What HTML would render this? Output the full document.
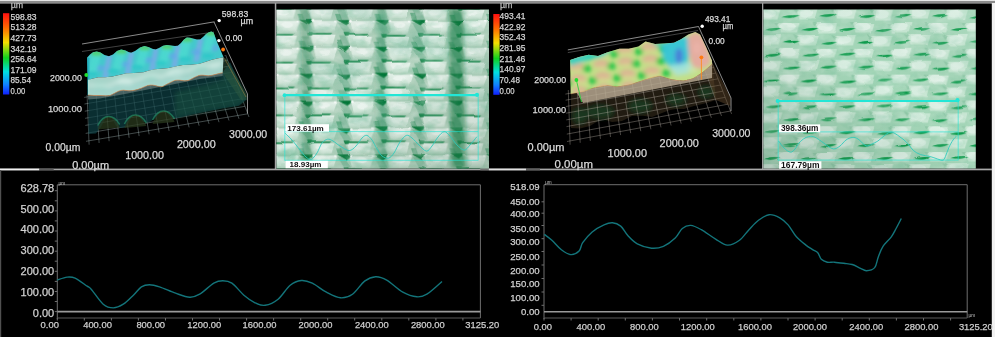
<!DOCTYPE html>
<html><head><meta charset='utf-8'><style>
html,body{margin:0;padding:0;background:#000;width:995px;height:337px;overflow:hidden}
svg{display:block;will-change:transform}
</style></head><body>
<svg width='995' height='337' viewBox='0 0 995 337' font-family='"Liberation Sans", sans-serif'>
<defs>
<filter id='blur15' x='-20%' y='-20%' width='140%' height='140%'><feGaussianBlur stdDeviation='1.4'/></filter>
<filter id='blur2' x='-20%' y='-20%' width='140%' height='140%'><feGaussianBlur stdDeviation='2'/></filter>
<linearGradient id='cbar' x1='0' y1='0' x2='0' y2='1'>
 <stop offset='0' stop-color='#ff1010'/>
 <stop offset='0.18' stop-color='#ff6a00'/>
 <stop offset='0.36' stop-color='#f4e000'/>
 <stop offset='0.55' stop-color='#10d020'/>
 <stop offset='0.72' stop-color='#00e0e0'/>
 <stop offset='0.88' stop-color='#1080ff'/>
 <stop offset='1' stop-color='#1020ff'/>
</linearGradient>

<filter id='mblur' x='0' y='0' width='100%' height='100%'>
 <feTurbulence type='fractalNoise' baseFrequency='0.03 0.04' numOctaves='1' seed='5' result='t'/>
 <feDisplacementMap in='SourceGraphic' in2='t' scale='5' xChannelSelector='R' yChannelSelector='G' result='d'/>
 <feGaussianBlur in='d' stdDeviation='0.55'/>
</filter>
<filter id='noise1' x='0' y='0' width='100%' height='100%'>
 <feTurbulence type='fractalNoise' baseFrequency='0.06 0.09' numOctaves='3' seed='7' result='n'/>
 <feColorMatrix in='n' type='matrix' values='0 0 0 0 1  0 0 0 0 1  0 0 0 0 1  2.2 0 0 0 -1.0' />
</filter>
<filter id='noise2' x='0' y='0' width='100%' height='100%'>
 <feTurbulence type='fractalNoise' baseFrequency='0.05 0.08' numOctaves='3' seed='3' result='n'/>
 <feColorMatrix in='n' type='matrix' values='0 0 0 0 0.15  0 0 0 0 0.5  0 0 0 0 0.3  0 2.4 0 0 -1.15' />
</filter>
<filter id='noise3' x='0' y='0' width='100%' height='100%'>
 <feTurbulence type='fractalNoise' baseFrequency='0.025 0.035' numOctaves='2' seed='11' result='n'/>
 <feColorMatrix in='n' type='matrix' values='0 0 0 0 0.05  0 0 0 0 0.35  0 0 0 0 0.2  -2.0 0 0 0 1.05' />
</filter>
<linearGradient id='shade1' x1='0' y1='0' x2='1' y2='1'>
 <stop offset='0' stop-color='#ffffff' stop-opacity='0.12'/><stop offset='0.5' stop-color='#607868' stop-opacity='0'/><stop offset='1' stop-color='#506858' stop-opacity='0.22'/>
</linearGradient>
<linearGradient id='shade2' x1='1' y1='0' x2='0' y2='1'>
 <stop offset='0' stop-color='#ffffff' stop-opacity='0.1'/><stop offset='0.45' stop-color='#507060' stop-opacity='0'/><stop offset='1' stop-color='#3c5c4c' stop-opacity='0.25'/>
</linearGradient>
<radialGradient id='wale' cx='0.5' cy='0.5' r='0.5'>
 <stop offset='0' stop-color='#e6f3ec'/><stop offset='0.6' stop-color='#cde7d8'/><stop offset='1' stop-color='#cde7d8' stop-opacity='0'/>
</radialGradient>
<linearGradient id='gapg' x1='0' y1='0' x2='1' y2='0'>
 <stop offset='0' stop-color='#4fa878' stop-opacity='0'/><stop offset='0.5' stop-color='#4fa878' stop-opacity='0.85'/><stop offset='1' stop-color='#4fa878' stop-opacity='0'/>
</linearGradient>
<linearGradient id='blk' x1='0' y1='0' x2='0' y2='1'>
 <stop offset='0' stop-color='#e4f1e9'/><stop offset='0.7' stop-color='#d2e7da'/><stop offset='1' stop-color='#b8d7c4'/>
</linearGradient>
<pattern id='mic1' patternUnits='userSpaceOnUse' x='300.5' y='19.8' width='37.5' height='26.9'>
 <rect width='37.5' height='26.9' fill='#aed0bb'/>
 <polygon points='12,1.2 37,1.2 33,12.8 15,12.8' fill='url(#blk)'/>
 <polygon points='9,16 34,16 31,26.6 12,26.6' fill='url(#blk)'/>
 <ellipse cx='24' cy='5' rx='6' ry='3' fill='#eaf4ee'/>
 <ellipse cx='21' cy='19.5' rx='6' ry='3' fill='#e6f2eb'/>
 <polygon points='0,3 8,3 14,13.5 6,13.5' fill='#7cb698' opacity='0.75'/>
 <polygon points='37.5,3 45.5,3 51.5,13.5 43.5,13.5' fill='#7cb698' opacity='0.75'/>
 <polygon points='0,16.5 7,16.5 12,26.9 4,26.9' fill='#7cb496' opacity='0.75'/>
 <polygon points='37.5,16.5 44.5,16.5 49.5,26.9 41.5,26.9' fill='#7cb496' opacity='0.75'/>
 <polygon points='-2,-6 3,-6 5,0 0,0' fill='#3a9666' opacity='0.6'/>
 <polygon points='-2,20.9 3,20.9 5,26.9 0,26.9' fill='#3a9666' opacity='0.6'/>
 <polygon points='35.5,20.9 40.5,20.9 42.5,26.9 37.5,26.9' fill='#3a9666' opacity='0.6'/>
 <polygon points='-1.5,-0.3 13.5,-0.3 12,2.8 8.5,5.8' fill='#2e9a60' opacity='0.7'/>
 <polygon points='36,-0.3 51,-0.3 49.5,2.8 46,5.8' fill='#2e9a60' opacity='0.7'/>
 <polygon points='-1,0.3 12.5,0.3 11,3 8.3,5.2' fill='#067638'/>
 <polygon points='36.5,0.3 50,0.3 48.5,3 45.8,5.2' fill='#067638'/>
 <circle cx='13.3' cy='1.3' r='1.3' fill='#ffffff'/>
 <circle cx='34.6' cy='1.8' r='1.1' fill='#f8fdfa'/>
 <polygon points='5.5,13.2 11.5,13.2 10.5,16.8 7,16.8' fill='#0f7c42'/>
 <polygon points='6,13.9 31,14.1 29,15.6 8,15.8' fill='#1a8a4e'/>
</pattern>
<pattern id='mic2' patternUnits='userSpaceOnUse' x='763' y='23.05' width='37.3' height='25.8'>
 <rect width='37.3' height='25.8' fill='#a4d6b8'/>
 <polygon points='15,-1 37,-1 34,9.5 18,9.5' fill='#c6e6d2'/>
 <polygon points='15,25.8 37,25.8 34,26.8 18,26.8' fill='#c6e6d2'/>
 <polygon points='-3.6,11.9 18.4,11.9 15.4,22.4 -0.6,22.4' fill='#c6e6d2'/>
 <polygon points='33.7,11.9 55.7,11.9 52.7,22.4 36.7,22.4' fill='#c6e6d2'/>
 <ellipse cx='25' cy='3.5' rx='8' ry='4' fill='#dcf0e4'/>
 <ellipse cx='6' cy='16.5' rx='8' ry='4' fill='#d8eee1'/>
 <path d='M30,11 L36,13 L33,16 Z' fill='#88c4a2' opacity='0.7'/>
 <path d='M11,-2 L17,0 L14,3 Z' fill='#88c4a2' opacity='0.7'/>
 <path d='M0.5,7.1 Q8,3.6 18.5,5.0 Q12,9.8 0.5,7.1 Z' fill='#48b87a' opacity='0.7'/>
 <path d='M1.5,6.8 Q9,4.2 17.5,5.3 Q12,9.0 1.5,6.8 Z' fill='#0c9a4a'/>
 <path d='M19.1,20.0 Q26.6,16.5 37.1,17.9 Q30.6,22.7 19.1,20.0 Z' fill='#48b87a' opacity='0.7'/>
 <path d='M20.1,19.7 Q27.6,17.1 36.1,18.2 Q30.6,21.9 20.1,19.7 Z' fill='#0c9a4a'/>
</pattern>
<clipPath id='m1clip'><rect x='276.4' y='9.4' width='212.6' height='159.2'/></clipPath>
<clipPath id='m2clip'><rect x='763.4' y='9.4' width='212.4' height='159.2'/></clipPath>
</defs>
<rect width='995' height='337' fill='#000'/>
<rect x='0' y='0' width='995' height='1' fill='#e6e6e6'/>
<rect x='0' y='1' width='995' height='2.7' fill='#8c8c8c'/>
<rect x='991.8' y='3' width='3.2' height='334' fill='#f2f2f2'/>
<rect x='274.8' y='3' width='1.5' height='167' fill='#a4a4a4'/>
<rect x='762' y='3' width='1.3' height='167' fill='#a0a0a0'/>
<rect x='0' y='168.6' width='992' height='1.7' fill='#a8a8a8'/>
<rect x='0' y='168.6' width='39.2' height='1.7' fill='#f0f0f0'/>
<rect x='39.2' y='168.6' width='14.5' height='1.7' fill='#5c5c5c'/>
<rect x='480.3' y='168.6' width='8.6' height='1.7' fill='#707070'/>
<rect x='488.9' y='168.6' width='37.1' height='1.7' fill='#e0e0e0'/>
<rect x='526' y='168.6' width='14' height='1.7' fill='#606060'/>
<rect x='0' y='170' width='1.2' height='167' fill='#505050'/>
<g clip-path='url(#m1clip)'><g filter='url(#mblur)'><rect x='273.4' y='6.4' width='218.6' height='165.2' fill='url(#mic1)'/></g>
<rect x='276.4' y='9.4' width='212.6' height='159.2' fill='#fff' filter='url(#noise1)' opacity='0.35'/>
<rect x='276.4' y='9.4' width='212.6' height='159.2' fill='#fff' filter='url(#noise2)' opacity='0.45'/>
<rect x='276.4' y='9.4' width='212.6' height='159.2' fill='#fff' filter='url(#noise3)' opacity='0.35'/>
<rect x='276.4' y='9.4' width='212.6' height='159.2' fill='url(#shade1)'/>
<g filter='url(#blur2)'>
<path d='M300.5,9.4 L309.5,9.4 L312.5,168.6 L303.5,168.6 Z' fill='#147a44' opacity='0.3'/>
<path d='M376.5,9.4 L385.5,9.4 L388.5,168.6 L379.5,168.6 Z' fill='#147a44' opacity='0.22'/>
<path d='M448.5,9.4 L463.5,9.4 L466.5,168.6 L451.5,168.6 Z' fill='#147a44' opacity='0.55'/>
</g></g>
<path d='M284.5,95.2 H478' stroke='#22e6d6' stroke-width='2.2'/>
<path d='M284.8,95 V160.5 M478.2,95 V160.5 M284.8,131.6 H478.2 M284.8,160.3 H478.2' stroke='#22e6d6' stroke-width='0.9' fill='none' opacity='0.7'/>
<circle cx='284.5' cy='95.2' r='1.9' fill='#22e6d6'/><circle cx='477' cy='94.8' r='2.1' fill='#22e6d6'/>
<path d='M284.8,133.0 C286.0,134.2 289.5,137.2 292.0,140.0 C294.5,142.8 297.7,147.2 300.0,150.0 C302.3,152.8 304.1,155.4 306.0,157.0 C307.9,158.6 309.5,160.1 311.3,159.4 C313.1,158.7 315.2,155.7 317.0,153.0 C318.8,150.3 320.2,145.3 322.0,143.0 C323.8,140.7 325.9,139.5 327.7,139.2 C329.5,138.9 330.9,139.9 333.0,141.0 C335.1,142.1 337.3,144.4 340.0,146.0 C342.7,147.6 346.4,150.6 349.1,150.6 C351.8,150.6 353.9,148.1 356.0,146.0 C358.1,143.9 360.2,139.8 362.0,138.0 C363.8,136.2 365.1,135.1 366.8,135.4 C368.5,135.7 370.3,137.7 372.0,140.0 C373.7,142.3 375.3,146.3 377.0,149.0 C378.7,151.7 380.1,154.5 382.0,156.0 C383.9,157.5 386.6,158.6 388.6,158.1 C390.6,157.6 392.1,155.7 394.0,153.0 C395.9,150.3 397.9,144.9 400.0,142.0 C402.1,139.1 404.3,136.1 406.3,135.4 C408.3,134.7 409.9,136.4 412.0,138.0 C414.1,139.6 416.6,142.8 419.0,145.0 C421.4,147.2 424.2,150.9 426.4,151.1 C428.6,151.3 430.1,148.3 432.0,146.0 C433.9,143.7 436.0,139.4 438.0,137.0 C440.0,134.6 442.1,131.9 444.1,131.7 C446.1,131.5 447.9,133.8 450.0,136.0 C452.1,138.2 454.6,142.7 457.0,145.0 C459.4,147.3 462.1,150.1 464.3,150.1 C466.5,150.1 467.9,147.2 470.0,145.0 C472.1,142.8 475.8,138.1 476.9,136.7' stroke='#2ccbbc' stroke-width='1.0' fill='none' opacity='0.85'/>
<rect x='285.6' y='124.2' width='43.4' height='7.5' fill='#ffffff'/>
<rect x='285.6' y='160.8' width='42.2' height='7.4' fill='#ffffff'/>
<text x='287.2' y='130.5' font-size='8.0' fill='#111' textLength='36.6' lengthAdjust='spacingAndGlyphs' font-weight='bold'>173.61µm</text>
<text x='289.6' y='167.0' font-size='8.0' fill='#111' textLength='31.8' lengthAdjust='spacingAndGlyphs' font-weight='bold'>18.93µm</text>
<g clip-path='url(#m2clip)'><g filter='url(#mblur)'><rect x='760.4' y='6.4' width='218.4' height='165.2' fill='url(#mic2)'/></g>
<rect x='763.4' y='9.4' width='212.4' height='159.2' fill='#fff' filter='url(#noise1)' opacity='0.28'/>
<rect x='763.4' y='9.4' width='212.4' height='159.2' fill='#fff' filter='url(#noise2)' opacity='0.35'/>
<rect x='763.4' y='9.4' width='212.4' height='159.2' fill='url(#shade2)'/></g>
<path d='M777.4,101 H958.6' stroke='#22e6d6' stroke-width='2.2'/>
<path d='M778.2,100 V161 M958.2,100 V160.3 M778.2,131.9 H958.2 M778.2,160.1 H958.2' stroke='#22e6d6' stroke-width='0.9' fill='none' opacity='0.7'/>
<circle cx='777.6' cy='101' r='1.9' fill='#22e6d6'/><circle cx='957.5' cy='100.2' r='2.1' fill='#22e6d6'/>
<path d='M778.6,141.0 C779.5,142.2 782.0,146.1 784.0,148.0 C786.0,149.9 788.7,152.0 790.5,152.2 C792.3,152.4 793.6,150.5 795.0,149.0 C796.4,147.5 797.3,144.8 799.0,143.0 C800.7,141.2 802.9,139.1 805.0,138.0 C807.1,136.9 809.7,136.1 811.9,136.3 C814.1,136.5 815.8,137.7 818.0,139.0 C820.2,140.3 822.5,142.3 825.0,144.0 C827.5,145.7 830.8,148.6 833.3,148.9 C835.8,149.2 837.9,147.5 840.0,146.0 C842.1,144.5 844.0,141.4 846.0,140.0 C848.0,138.6 850.3,137.7 852.3,137.5 C854.3,137.3 855.7,137.6 858.0,139.0 C860.3,140.4 863.7,145.0 866.0,145.8 C868.3,146.6 870.0,144.8 872.0,144.0 C874.0,143.2 875.9,142.3 877.9,141.0 C879.9,139.7 882.0,137.4 884.0,136.0 C886.0,134.6 888.0,132.7 889.8,132.3 C891.6,131.9 893.3,132.7 895.0,133.5 C896.7,134.3 898.5,135.9 900.0,137.0 C901.5,138.1 902.5,138.6 904.0,139.9 C905.5,141.2 907.4,143.2 909.0,145.0 C910.6,146.8 911.6,149.0 913.5,150.6 C915.4,152.2 917.8,153.6 920.6,154.6 C923.4,155.6 927.3,155.8 930.1,156.5 C932.9,157.2 935.1,158.3 937.3,158.9 C939.5,159.5 941.8,160.8 943.2,160.1 C944.7,159.4 945.0,157.2 946.0,155.0 C947.0,152.8 947.9,149.5 949.1,147.0 C950.3,144.5 951.8,141.8 953.0,140.0 C954.2,138.2 955.8,136.9 956.3,136.3' stroke='#2ccbbc' stroke-width='1.0' fill='none' opacity='0.85'/>
<rect x='779.1' y='124.4' width='41.1' height='7.9' fill='#ffffff'/>
<rect x='779.1' y='161.3' width='42.3' height='7.4' fill='#ffffff'/>
<text x='781.0' y='131.0' font-size='8.2' fill='#111' textLength='37.5' lengthAdjust='spacingAndGlyphs' font-weight='bold'>398.36µm</text>
<text x='781.0' y='168.0' font-size='8.2' fill='#111' textLength='38.5' lengthAdjust='spacingAndGlyphs' font-weight='bold'>167.79µm</text>
<rect x='3.0' y='13.2' width='6.3' height='81.3' fill='url(#cbar)'/>
<text x='10.7' y='8.0' font-size='8.4' fill='#bdbdbd' stroke='#bdbdbd' stroke-width='0.25' textLength='12.5' lengthAdjust='spacingAndGlyphs'>µm</text>
<text x='10.4' y='19.7' font-size='9.2' fill='#d6d6d6' stroke='#d6d6d6' stroke-width='0.25' textLength='26.2' lengthAdjust='spacingAndGlyphs'>598.83</text>
<text x='10.4' y='30.3' font-size='9.2' fill='#d6d6d6' stroke='#d6d6d6' stroke-width='0.25' textLength='26.2' lengthAdjust='spacingAndGlyphs'>513.28</text>
<text x='10.4' y='40.9' font-size='9.2' fill='#d6d6d6' stroke='#d6d6d6' stroke-width='0.25' textLength='26.2' lengthAdjust='spacingAndGlyphs'>427.73</text>
<text x='10.4' y='51.5' font-size='9.2' fill='#d6d6d6' stroke='#d6d6d6' stroke-width='0.25' textLength='26.2' lengthAdjust='spacingAndGlyphs'>342.19</text>
<text x='10.4' y='62.1' font-size='9.2' fill='#d6d6d6' stroke='#d6d6d6' stroke-width='0.25' textLength='26.2' lengthAdjust='spacingAndGlyphs'>256.64</text>
<text x='10.4' y='72.7' font-size='9.2' fill='#d6d6d6' stroke='#d6d6d6' stroke-width='0.25' textLength='26.2' lengthAdjust='spacingAndGlyphs'>171.09</text>
<text x='10.4' y='83.3' font-size='9.2' fill='#d6d6d6' stroke='#d6d6d6' stroke-width='0.25' textLength='20.6' lengthAdjust='spacingAndGlyphs'>85.54</text>
<text x='10.4' y='93.9' font-size='9.2' fill='#d6d6d6' stroke='#d6d6d6' stroke-width='0.25' textLength='15.0' lengthAdjust='spacingAndGlyphs'>0.00</text>
<clipPath id='g1clip'><polygon points='70,160 260,160 260,55 224,55 222.7,72.7 208.4,75.8 189,80.2 175,80.4 166.8,84.3 152.5,85.1 141.9,87.9 123.5,90.2 110.5,95.3 88,95 70,95'/></clipPath>
<g clip-path='url(#g1clip)'>
<path d='M89.1,144.7 L85.0,44.0 M99.1,143.0 L93.0,42.6 M109.1,141.2 L101.0,41.2 M119.1,139.5 L109.0,39.8 M129.1,137.8 L117.0,38.4 M139.1,136.1 L125.0,37.0 M149.1,134.3 L133.0,35.6 M159.1,132.6 L141.0,34.2 M169.1,130.9 L149.0,32.8 M179.1,129.1 L157.0,31.3 M189.1,127.4 L165.0,29.9 M199.1,125.7 L173.0,28.5 M209.0,123.9 L181.0,27.1 M219.0,122.2 L189.0,25.7 M229.0,120.5 L197.0,24.3 M239.0,118.8 L205.0,22.9 M249.0,117.0 L213.0,21.5 M86.0,141.3 L247.8,113.8 M85.7,133.4 L245.0,106.3 M85.3,125.4 L242.1,98.8 M85.1,118.3 L239.6,92.0 M84.8,111.2 L237.0,85.3 M84.5,104.0 L234.5,78.4 M84.2,97.4 L232.1,72.2 M83.9,90.9 L229.8,66.0 M83.7,85.0 L227.7,60.4 M83.4,79.0 L225.5,54.7 M83.2,73.2 L223.4,49.2 M83.0,67.8 L221.5,44.1 M82.8,62.5 L219.6,39.0 M82.6,57.6 L217.9,34.4 M82.4,52.8 L216.1,29.8 M82.2,48.4 L214.6,25.7 M82.0,44.0 L213.0,21.5 ' stroke='#a8bcbc' stroke-width='0.65' fill='none' opacity='0.6'/>
</g>
<polygon points='88.5,90.0 88.5,134.0 96.0,133.5 101.0,127.0 105.0,119.0 108.7,116.5 112.0,118.0 116.0,126.0 120.0,128.0 126.0,127.5 131.0,118.0 135.4,115.0 139.0,116.0 143.0,122.0 149.0,122.5 156.0,118.0 160.0,112.0 163.6,111.0 167.0,112.5 171.0,118.0 178.0,118.0 190.0,115.0 205.0,112.0 222.0,108.5 238.9,105.8 246.0,100.0 246.0,96.0 230.0,62.0 223.0,72.0' fill='#0e4246' opacity='0.7'/>
<polygon points='175,118 205,112 238.9,105.8 246,100 246,93 232,72 222.7,73 222.7,80 200,86 175,92' fill='#1c5a44' opacity='0.45' filter='url(#blur2)'/>
<path d='M97.7,129.5 C100.7,120.5 104.7,116.5 108.7,116.5 C112.7,116.5 116.7,120.5 119.7,127.5 Z' fill='#2a3a1e' opacity='0.75'/>
<path d='M97.7,125.5 C100.7,119.5 104.7,116.5 108.7,116.5 C112.7,116.5 116.7,119.5 119.7,124.5' stroke='#2a9a6a' stroke-width='1.5' fill='none' opacity='0.6'/>
<path d='M124.4,128 C127.4,119 131.4,115 135.4,115 C139.4,115 143.4,119 146.4,126 Z' fill='#2a3a1e' opacity='0.75'/>
<path d='M124.4,124 C127.4,118 131.4,115 135.4,115 C139.4,115 143.4,118 146.4,123' stroke='#2a9a6a' stroke-width='1.5' fill='none' opacity='0.6'/>
<path d='M152.6,124 C155.6,115 159.6,111 163.6,111 C167.6,111 171.6,115 174.6,122 Z' fill='#2a3a1e' opacity='0.75'/>
<path d='M152.6,120 C155.6,114 159.6,111 163.6,111 C167.6,111 171.6,114 174.6,119' stroke='#2a9a6a' stroke-width='1.5' fill='none' opacity='0.6'/>
<polygon points='223.6,57.5 227,59 247,95 247,100 241,100 222.7,73' fill='#2e5a40' opacity='0.5'/>
<path d='M224.5,58.5 L246,97' stroke='#c08a40' stroke-width='0.8' opacity='0.55'/>
<path d='M82,44 L214.5,21.8 M214,22 L247.5,94 L247.5,113.5' stroke='#cccccc' stroke-width='0.8' fill='none' opacity='0.85'/>
<path d='M82,51.5 L214,32' stroke='#bbbbbb' stroke-width='0.7' fill='none' opacity='0.5'/>
<clipPath id='s1clip'><polygon points='87.2,57.5 90.0,54.5 93.0,52.3 96.7,51.4 100.5,52.5 104.5,55.0 108.9,56.2 113.0,54.5 117.0,51.0 121.2,49.4 125.5,50.5 129.0,52.2 131.2,52.8 135.0,51.0 140.0,47.5 144.5,46.0 149.0,47.2 153.0,49.0 155.7,49.4 159.0,48.0 163.0,45.8 166.8,45.0 171.0,45.4 175.0,46.0 177.9,45.8 181.0,43.0 184.0,39.5 186.8,37.6 190.0,37.8 194.0,38.7 197.0,39.6 200.2,39.6 203.0,37.0 206.0,34.0 209.0,32.2 211.3,31.6 213.5,32.6 217.5,43.0 223.6,57.2 217.0,58.6 211.0,60.1 205.0,61.9 199.7,63.7 191.0,64.7 182.8,65.1 175.0,66.6 168.7,68.0 161.0,68.7 154.6,69.2 149.0,70.5 143.3,72.2 134.0,73.0 126.4,73.2 119.0,74.9 112.3,76.5 105.0,77.2 98.2,77.3 93.0,78.5 88.0,79.8'/></clipPath>
<polygon points='87.2,57.5 90.0,54.5 93.0,52.3 96.7,51.4 100.5,52.5 104.5,55.0 108.9,56.2 113.0,54.5 117.0,51.0 121.2,49.4 125.5,50.5 129.0,52.2 131.2,52.8 135.0,51.0 140.0,47.5 144.5,46.0 149.0,47.2 153.0,49.0 155.7,49.4 159.0,48.0 163.0,45.8 166.8,45.0 171.0,45.4 175.0,46.0 177.9,45.8 181.0,43.0 184.0,39.5 186.8,37.6 190.0,37.8 194.0,38.7 197.0,39.6 200.2,39.6 203.0,37.0 206.0,34.0 209.0,32.2 211.3,31.6 213.5,32.6 217.5,43.0 223.6,57.2 217.0,58.6 211.0,60.1 205.0,61.9 199.7,63.7 191.0,64.7 182.8,65.1 175.0,66.6 168.7,68.0 161.0,68.7 154.6,69.2 149.0,70.5 143.3,72.2 134.0,73.0 126.4,73.2 119.0,74.9 112.3,76.5 105.0,77.2 98.2,77.3 93.0,78.5 88.0,79.8' fill='#44c8cc'/>
<g clip-path='url(#s1clip)' filter='url(#blur15)'>
<polygon points='106.9,55.2 111.9,55.2 107.9,78.2 101.9,78.2' fill='#78ace6' opacity='0.85'/>
<polygon points='129.2,51.8 134.2,51.8 130.2,74.8 124.19999999999999,74.8' fill='#78ace6' opacity='0.85'/>
<polygon points='153.7,48.4 158.7,48.4 154.7,71.4 148.7,71.4' fill='#78ace6' opacity='0.85'/>
<polygon points='175.9,44.8 180.9,44.8 176.9,67.8 170.9,67.8' fill='#78ace6' opacity='0.85'/>
<polygon points='198.2,38.6 203.2,38.6 199.2,61.6 193.2,61.6' fill='#78ace6' opacity='0.85'/>
<ellipse cx='100' cy='68' rx='5' ry='3' fill='#62a6e8' opacity='0.7'/>
<ellipse cx='124' cy='64' rx='5' ry='3' fill='#62a6e8' opacity='0.7'/>
<ellipse cx='148' cy='60' rx='5' ry='3' fill='#62a6e8' opacity='0.7'/>
<ellipse cx='172' cy='56' rx='5' ry='3' fill='#62a6e8' opacity='0.7'/>
<ellipse cx='196' cy='52' rx='5' ry='3' fill='#62a6e8' opacity='0.7'/>
<ellipse cx='214' cy='48' rx='5' ry='3' fill='#62a6e8' opacity='0.7'/>
<ellipse cx='96.7' cy='53.9' rx='5.5' ry='3.2' fill='#50d070' opacity='0.95'/>
<polygon points='91.7,55.4 100.7,55.4 96.7,71.4 87.7,71.4' fill='#4cdcd0' opacity='0.75'/>
<ellipse cx='121.2' cy='51.9' rx='5.5' ry='3.2' fill='#50d070' opacity='0.95'/>
<polygon points='116.2,53.4 125.2,53.4 121.2,69.4 112.2,69.4' fill='#4cdcd0' opacity='0.75'/>
<ellipse cx='144.5' cy='48.5' rx='5.5' ry='3.2' fill='#50d070' opacity='0.95'/>
<polygon points='139.5,50 148.5,50 144.5,66 135.5,66' fill='#4cdcd0' opacity='0.75'/>
<ellipse cx='166.8' cy='47.5' rx='5.5' ry='3.2' fill='#50d070' opacity='0.95'/>
<polygon points='161.8,49 170.8,49 166.8,65 157.8,65' fill='#4cdcd0' opacity='0.75'/>
<ellipse cx='186.8' cy='40.1' rx='5.5' ry='3.2' fill='#50d070' opacity='0.95'/>
<polygon points='181.8,41.6 190.8,41.6 186.8,57.6 177.8,57.6' fill='#4cdcd0' opacity='0.75'/>
<ellipse cx='211.3' cy='34.1' rx='5.5' ry='3.2' fill='#50d070' opacity='0.95'/>
<polygon points='206.3,35.6 215.3,35.6 211.3,51.6 202.3,51.6' fill='#4cdcd0' opacity='0.75'/>
<ellipse cx='92' cy='74' rx='6' ry='2.5' fill='#2cc8c8' opacity='0.8'/>
<ellipse cx='113' cy='71' rx='6' ry='2.5' fill='#2cc8c8' opacity='0.8'/>
<ellipse cx='137' cy='67' rx='6' ry='2.5' fill='#2cc8c8' opacity='0.8'/>
<ellipse cx='161' cy='63' rx='6' ry='2.5' fill='#2cc8c8' opacity='0.8'/>
<ellipse cx='185' cy='59' rx='6' ry='2.5' fill='#2cc8c8' opacity='0.8'/>
<ellipse cx='208' cy='56' rx='6' ry='2.5' fill='#2cc8c8' opacity='0.8'/>
</g>
<polygon points='87.2,57.4 89.5,58 89.5,95 87.6,95' fill='#20b0c0' opacity='0.9'/>
<polygon points='88.0,79.8 93.0,78.5 98.2,77.3 105.0,77.2 112.3,76.5 119.0,74.9 126.4,73.2 134.0,73.0 143.3,72.2 149.0,70.5 154.6,69.2 161.0,68.7 168.7,68.0 175.0,66.6 182.8,65.1 191.0,64.7 199.7,63.7 205.0,61.9 211.0,60.1 217.0,58.6 223.6,57.2 222.7,72.7 218.0,73.8 213.0,75.0 208.4,75.8 203.0,75.2 199.0,75.5 194.2,77.5 189.0,80.2 184.5,80.8 179.8,80.2 175.1,80.4 171.5,81.9 166.8,84.3 162.0,86.7 157.3,86.1 152.5,85.1 147.8,85.5 141.9,87.9 137.1,89.6 133.0,90.5 129.0,90.8 123.5,90.2 119.0,91.0 115.0,93.0 110.5,95.3 106.0,95.8 100.0,95.5 94.0,95.5 88.0,95.0' fill='#b6e6da' opacity='0.92'/>
<clipPath id='f1clip'><polygon points='88.0,79.8 93.0,78.5 98.2,77.3 105.0,77.2 112.3,76.5 119.0,74.9 126.4,73.2 134.0,73.0 143.3,72.2 149.0,70.5 154.6,69.2 161.0,68.7 168.7,68.0 175.0,66.6 182.8,65.1 191.0,64.7 199.7,63.7 205.0,61.9 211.0,60.1 217.0,58.6 223.6,57.2 222.7,72.7 218.0,73.8 213.0,75.0 208.4,75.8 203.0,75.2 199.0,75.5 194.2,77.5 189.0,80.2 184.5,80.8 179.8,80.2 175.1,80.4 171.5,81.9 166.8,84.3 162.0,86.7 157.3,86.1 152.5,85.1 147.8,85.5 141.9,87.9 137.1,89.6 133.0,90.5 129.0,90.8 123.5,90.2 119.0,91.0 115.0,93.0 110.5,95.3 106.0,95.8 100.0,95.5 94.0,95.5 88.0,95.0'/></clipPath>
<g clip-path='url(#f1clip)' filter='url(#blur2)'>
<ellipse cx='100' cy='86' rx='8' ry='4' fill='#8ed6c4' opacity='0.5'/>
<ellipse cx='125' cy='82' rx='8' ry='4' fill='#d6f0e8' opacity='0.7'/>
<ellipse cx='150' cy='78' rx='8' ry='4' fill='#8ed6c4' opacity='0.45'/>
<ellipse cx='175' cy='74' rx='8' ry='4' fill='#d6f0e8' opacity='0.6'/>
<ellipse cx='200' cy='68' rx='8' ry='4' fill='#8ed6c4' opacity='0.45'/>
<ellipse cx='215' cy='66' rx='6' ry='3' fill='#d0ece4' opacity='0.6'/>
<path d='M88.0,90.0 C89.0,90.1 92.0,90.4 94.0,90.5 C96.0,90.6 98.0,90.5 100.0,90.5 C102.0,90.5 104.2,90.8 106.0,90.8 C107.8,90.8 109.0,90.8 110.5,90.3 C112.0,89.8 113.6,88.7 115.0,88.0 C116.4,87.3 117.6,86.5 119.0,86.0 C120.4,85.5 121.8,85.2 123.5,85.2 C125.2,85.2 127.4,85.8 129.0,85.8 C130.6,85.8 131.7,85.7 133.0,85.5 C134.3,85.3 135.6,85.0 137.1,84.6 C138.6,84.2 140.1,83.6 141.9,82.9 C143.7,82.2 146.0,81.0 147.8,80.5 C149.6,80.0 150.9,80.0 152.5,80.1 C154.1,80.2 155.7,80.8 157.3,81.1 C158.9,81.4 160.4,82.0 162.0,81.7 C163.6,81.4 165.2,80.1 166.8,79.3 C168.4,78.5 170.1,77.6 171.5,76.9 C172.9,76.2 173.7,75.7 175.1,75.4 C176.5,75.1 178.2,75.1 179.8,75.2 C181.4,75.3 183.0,75.8 184.5,75.8 C186.0,75.8 187.4,75.8 189.0,75.2 C190.6,74.7 192.5,73.3 194.2,72.5 C195.9,71.7 197.5,70.9 199.0,70.5 C200.5,70.1 201.4,70.2 203.0,70.2 C204.6,70.2 206.7,70.8 208.4,70.8 C210.1,70.8 211.4,70.3 213.0,70.0 C214.6,69.7 216.4,69.2 218.0,68.8 C219.6,68.4 221.9,67.9 222.7,67.7' stroke='#98d2cc' stroke-width='2.2' fill='none' opacity='0.7'/>
<path d='M88.0,85.0 C89.0,85.1 92.0,85.4 94.0,85.5 C96.0,85.6 98.0,85.5 100.0,85.5 C102.0,85.5 104.2,85.8 106.0,85.8 C107.8,85.8 109.0,85.8 110.5,85.3 C112.0,84.8 113.6,83.7 115.0,83.0 C116.4,82.3 117.6,81.5 119.0,81.0 C120.4,80.5 121.8,80.2 123.5,80.2 C125.2,80.2 127.4,80.8 129.0,80.8 C130.6,80.8 131.7,80.7 133.0,80.5 C134.3,80.3 135.6,80.0 137.1,79.6 C138.6,79.2 140.1,78.6 141.9,77.9 C143.7,77.2 146.0,76.0 147.8,75.5 C149.6,75.0 150.9,75.0 152.5,75.1 C154.1,75.2 155.7,75.8 157.3,76.1 C158.9,76.4 160.4,77.0 162.0,76.7 C163.6,76.4 165.2,75.1 166.8,74.3 C168.4,73.5 170.1,72.6 171.5,71.9 C172.9,71.2 173.7,70.7 175.1,70.4 C176.5,70.1 178.2,70.1 179.8,70.2 C181.4,70.3 183.0,70.8 184.5,70.8 C186.0,70.8 187.4,70.8 189.0,70.2 C190.6,69.7 192.5,68.3 194.2,67.5 C195.9,66.7 197.5,65.9 199.0,65.5 C200.5,65.1 201.4,65.2 203.0,65.2 C204.6,65.2 206.7,65.8 208.4,65.8 C210.1,65.8 211.4,65.3 213.0,65.0 C214.6,64.7 216.4,64.2 218.0,63.8 C219.6,63.4 221.9,62.9 222.7,62.7' stroke='#dcf2ee' stroke-width='2.2' fill='none' opacity='0.8'/>
</g>
<polygon points='88.0,95.0 94.0,95.5 100.0,95.5 106.0,95.8 110.5,95.3 115.0,93.0 119.0,91.0 123.5,90.2 129.0,90.8 133.0,90.5 137.1,89.6 141.9,87.9 147.8,85.5 152.5,85.1 157.3,86.1 162.0,86.7 166.8,84.3 171.5,81.9 175.1,80.4 179.8,80.2 184.5,80.8 189.0,80.2 194.2,77.5 199.0,75.5 203.0,75.2 208.4,75.8 213.0,75.0 218.0,73.8 222.7,72.7 222.7,76.0 200.0,79.0 175.0,84.0 150.0,89.0 125.0,94.0 100.0,98.5 88.0,99.5' fill='#7c8e8a' opacity='0.55'/>
<path d='M88.0,95.0 C89.0,95.1 92.0,95.4 94.0,95.5 C96.0,95.6 98.0,95.5 100.0,95.5 C102.0,95.5 104.2,95.8 106.0,95.8 C107.8,95.8 109.0,95.8 110.5,95.3 C112.0,94.8 113.6,93.7 115.0,93.0 C116.4,92.3 117.6,91.5 119.0,91.0 C120.4,90.5 121.8,90.2 123.5,90.2 C125.2,90.2 127.4,90.8 129.0,90.8 C130.6,90.8 131.7,90.7 133.0,90.5 C134.3,90.3 135.6,90.0 137.1,89.6 C138.6,89.2 140.1,88.6 141.9,87.9 C143.7,87.2 146.0,86.0 147.8,85.5 C149.6,85.0 150.9,85.0 152.5,85.1 C154.1,85.2 155.7,85.8 157.3,86.1 C158.9,86.4 160.4,87.0 162.0,86.7 C163.6,86.4 165.2,85.1 166.8,84.3 C168.4,83.5 170.1,82.6 171.5,81.9 C172.9,81.2 173.7,80.7 175.1,80.4 C176.5,80.1 178.2,80.1 179.8,80.2 C181.4,80.3 183.0,80.8 184.5,80.8 C186.0,80.8 187.4,80.8 189.0,80.2 C190.6,79.7 192.5,78.3 194.2,77.5 C195.9,76.7 197.5,75.9 199.0,75.5 C200.5,75.1 201.4,75.2 203.0,75.2 C204.6,75.2 206.7,75.8 208.4,75.8 C210.1,75.8 211.4,75.3 213.0,75.0 C214.6,74.7 216.4,74.2 218.0,73.8 C219.6,73.4 221.9,72.9 222.7,72.7' stroke='#e08a50' stroke-width='0.7' fill='none' opacity='0.9'/>
<circle cx='86.3' cy='75' r='1.9' fill='#22e030'/>
<circle cx='219.2' cy='20.6' r='1.7' fill='#ffffff'/>
<circle cx='218.9' cy='40.6' r='1.7' fill='#ffffff'/>
<circle cx='223.1' cy='49.5' r='1.9' fill='#ff7a10'/>
<text x='221.8' y='16.6' font-size='9.2' fill='#dadada' stroke='#dadada' stroke-width='0.25' textLength='26.4' lengthAdjust='spacingAndGlyphs'>598.83</text>
<text x='240.5' y='24.0' font-size='8.6' fill='#dadada' stroke='#dadada' stroke-width='0.25' textLength='12.6' lengthAdjust='spacingAndGlyphs'>µm</text>
<text x='225.6' y='41.4' font-size='8.6' fill='#dadada' stroke='#dadada' stroke-width='0.25' textLength='16.7' lengthAdjust='spacingAndGlyphs'>0.00</text>
<text x='50.0' y='81.0' font-size='9.3' fill='#dadada' stroke='#dadada' stroke-width='0.25' textLength='31.9' lengthAdjust='spacingAndGlyphs'>2000.00</text>
<text x='47.9' y='112.4' font-size='9.5' fill='#dadada' stroke='#dadada' stroke-width='0.25' textLength='34.0' lengthAdjust='spacingAndGlyphs'>1000.00</text>
<text x='45.6' y='150.6' font-size='11.2' fill='#dadada' stroke='#dadada' stroke-width='0.25' textLength='34.8' lengthAdjust='spacingAndGlyphs'>0.00µm</text>
<text x='72.2' y='168.7' font-size='11.2' fill='#dadada' stroke='#dadada' stroke-width='0.25' textLength='36.9' lengthAdjust='spacingAndGlyphs'>0.00µm</text>
<text x='125.2' y='158.5' font-size='11.2' fill='#dadada' stroke='#dadada' stroke-width='0.25' textLength='38.7' lengthAdjust='spacingAndGlyphs'>1000.00</text>
<text x='176.9' y='148.0' font-size='11.2' fill='#dadada' stroke='#dadada' stroke-width='0.25' textLength='38.9' lengthAdjust='spacingAndGlyphs'>2000.00</text>
<text x='229.0' y='138.4' font-size='11.3' fill='#dadada' stroke='#dadada' stroke-width='0.25' textLength='38.2' lengthAdjust='spacingAndGlyphs'>3000.00</text>
<rect x='493.3' y='14.0' width='6.3' height='80.8' fill='url(#cbar)'/>
<text x='499.9' y='8.3' font-size='8.4' fill='#bdbdbd' stroke='#bdbdbd' stroke-width='0.25' textLength='12.5' lengthAdjust='spacingAndGlyphs'>µm</text>
<text x='499.6' y='18.8' font-size='9.2' fill='#d6d6d6' stroke='#d6d6d6' stroke-width='0.25' textLength='25.8' lengthAdjust='spacingAndGlyphs'>493.41</text>
<text x='499.6' y='29.5' font-size='9.2' fill='#d6d6d6' stroke='#d6d6d6' stroke-width='0.25' textLength='25.8' lengthAdjust='spacingAndGlyphs'>422.92</text>
<text x='499.6' y='40.2' font-size='9.2' fill='#d6d6d6' stroke='#d6d6d6' stroke-width='0.25' textLength='25.8' lengthAdjust='spacingAndGlyphs'>352.43</text>
<text x='499.6' y='50.9' font-size='9.2' fill='#d6d6d6' stroke='#d6d6d6' stroke-width='0.25' textLength='25.8' lengthAdjust='spacingAndGlyphs'>281.95</text>
<text x='499.6' y='61.7' font-size='9.2' fill='#d6d6d6' stroke='#d6d6d6' stroke-width='0.25' textLength='25.8' lengthAdjust='spacingAndGlyphs'>211.46</text>
<text x='499.6' y='72.4' font-size='9.2' fill='#d6d6d6' stroke='#d6d6d6' stroke-width='0.25' textLength='25.8' lengthAdjust='spacingAndGlyphs'>140.97</text>
<text x='499.6' y='83.1' font-size='9.2' fill='#d6d6d6' stroke='#d6d6d6' stroke-width='0.25' textLength='20.3' lengthAdjust='spacingAndGlyphs'>70.48</text>
<text x='499.6' y='93.8' font-size='9.2' fill='#d6d6d6' stroke='#d6d6d6' stroke-width='0.25' textLength='15.0' lengthAdjust='spacingAndGlyphs'>0.00</text>
<polygon points='571.0,90.0 571.0,128.0 580.0,128.5 590.0,126.0 598.0,121.0 604.0,119.5 612.0,122.0 622.0,121.0 632.0,116.0 643.0,115.7 652.0,117.0 662.0,113.0 670.0,110.0 675.8,108.9 684.0,109.0 694.0,106.0 706.6,103.0 716.0,100.0 712.0,62.0' fill='#241d12' opacity='0.92'/>
<g filter='url(#blur2)'>
<ellipse cx='600' cy='112' rx='14' ry='7' fill='#0c4a2a' opacity='0.55'/>
<ellipse cx='640' cy='106' rx='12' ry='7' fill='#0c4a2a' opacity='0.55'/>
<ellipse cx='676' cy='100' rx='10' ry='6' fill='#0c4a2a' opacity='0.55'/>
<ellipse cx='706' cy='92' rx='8' ry='6' fill='#0c4a2a' opacity='0.55'/>
<ellipse cx='580' cy='116' rx='8' ry='8' fill='#0c4a2a' opacity='0.55'/>
</g>
<clipPath id='g2clip'><polygon points='560,160 740,160 740,60 712,60 571,90 560,90'/></clipPath>
<g clip-path='url(#g2clip)'>
<path d='M570.1,144.7 L567.0,50.0 M580.2,142.8 L575.2,48.6 M590.3,140.9 L583.4,47.1 M600.4,138.9 L591.6,45.7 M610.5,137.0 L599.8,44.2 M620.6,135.1 L607.9,42.8 M630.7,133.2 L616.1,41.4 M640.8,131.2 L624.3,39.9 M650.9,129.3 L632.5,38.5 M661.0,127.4 L640.7,37.1 M671.1,125.5 L648.9,35.6 M681.2,123.6 L657.1,34.2 M691.3,121.6 L665.2,32.8 M701.4,119.7 L673.4,31.3 M711.4,117.8 L681.6,29.9 M721.5,115.9 L689.8,28.4 M731.6,113.9 L698.0,27.0 M567.0,141.5 L730.5,111.0 M566.8,134.1 L727.9,104.2 M566.5,126.6 L725.2,97.3 M566.3,119.9 L722.8,91.2 M566.1,113.2 L720.5,85.0 M565.9,106.5 L718.1,78.8 M565.6,100.2 L715.8,73.1 M565.4,94.1 L713.7,67.5 M565.3,88.5 L711.7,62.4 M565.1,82.9 L709.7,57.2 M564.9,77.5 L707.8,52.2 M564.7,72.4 L706.0,47.6 M564.6,67.4 L704.2,43.0 M564.4,62.8 L702.5,38.8 M564.3,58.2 L700.9,34.6 M564.1,54.1 L699.5,30.8 M564.0,50.0 L698.0,27.0 ' stroke='#b8b0a4' stroke-width='0.65' fill='none' opacity='0.6'/>
</g>
<polygon points='702,60 712,62 730.5,97 730.5,106 716,100' fill='#6a5030' opacity='0.45'/>
<path d='M567.8,49.9 L698.5,26.5 M698.5,26.5 L731,98 L731,111' stroke='#cccccc' stroke-width='0.8' fill='none' opacity='0.85'/>
<path d='M567.8,52.6 L698,30.5' stroke='#bbbbbb' stroke-width='0.7' fill='none' opacity='0.5'/>
<polygon points='576.5,92.5 593.2,87.9 607.5,85.5 617.0,86.7 631.2,84.3 645.5,79.6 659.7,76.0 671.6,79.6 683.4,80.8 693.0,78.4 702.4,72.5 712.0,64.2 712.0,78.0 583.1,103.0' fill='#b8aa92' opacity='0.82'/>
<clipPath id='s2clip'><polygon points='570.2,60.0 579.0,57.0 588.5,54.7 598.0,55.9 607.5,52.3 619.3,48.7 628.8,48.7 638.3,46.4 645.5,41.6 655.0,44.0 664.5,43.5 674.0,42.8 681.0,39.2 688.2,34.5 695.3,32.1 700.0,34.5 706.0,47.0 712.0,60.6 712.0,64.2 702.4,72.5 693.0,78.4 683.4,80.8 671.6,79.6 659.7,76.0 645.5,79.6 631.2,84.3 617.0,86.7 607.5,85.5 593.2,87.9 583.7,91.5 570.7,93.8'/></clipPath>
<polygon points='570.2,60.0 579.0,57.0 588.5,54.7 598.0,55.9 607.5,52.3 619.3,48.7 628.8,48.7 638.3,46.4 645.5,41.6 655.0,44.0 664.5,43.5 674.0,42.8 681.0,39.2 688.2,34.5 695.3,32.1 700.0,34.5 706.0,47.0 712.0,60.6 712.0,64.2 702.4,72.5 693.0,78.4 683.4,80.8 671.6,79.6 659.7,76.0 645.5,79.6 631.2,84.3 617.0,86.7 607.5,85.5 593.2,87.9 583.7,91.5 570.7,93.8' fill='#c2df88'/>
<g clip-path='url(#s2clip)' filter='url(#blur2)'>
<polygon points='650,42 664,40 664,48 655,49' fill='#40c8b0' opacity='0.7'/>
<ellipse cx='549.4' cy='45.4' rx='8' ry='4.6' fill='#dcb294' opacity='0.92'/>
<ellipse cx='550.4' cy='48.9' rx='7' ry='2.2' fill='#d4dc90' opacity='0.7'/>
<ellipse cx='550.9' cy='57.4' rx='8' ry='4.6' fill='#dcb294' opacity='0.92'/>
<ellipse cx='551.9' cy='60.9' rx='7' ry='2.2' fill='#d4dc90' opacity='0.7'/>
<ellipse cx='552.4' cy='69.4' rx='8' ry='4.6' fill='#dcb294' opacity='0.92'/>
<ellipse cx='553.4' cy='72.9' rx='7' ry='2.2' fill='#d4dc90' opacity='0.7'/>
<ellipse cx='553.9' cy='81.4' rx='8' ry='4.6' fill='#dcb294' opacity='0.92'/>
<ellipse cx='554.9' cy='84.9' rx='7' ry='2.2' fill='#d4dc90' opacity='0.7'/>
<ellipse cx='555.4' cy='93.4' rx='8' ry='4.6' fill='#dcb294' opacity='0.92'/>
<ellipse cx='556.4' cy='96.9' rx='7' ry='2.2' fill='#d4dc90' opacity='0.7'/>
<ellipse cx='573.9' cy='42.9' rx='8' ry='4.6' fill='#dcb294' opacity='0.92'/>
<ellipse cx='574.9' cy='46.4' rx='7' ry='2.2' fill='#d4dc90' opacity='0.7'/>
<ellipse cx='575.4' cy='54.9' rx='8' ry='4.6' fill='#dcb294' opacity='0.92'/>
<ellipse cx='576.4' cy='58.4' rx='7' ry='2.2' fill='#d4dc90' opacity='0.7'/>
<ellipse cx='576.9' cy='66.9' rx='8' ry='4.6' fill='#dcb294' opacity='0.92'/>
<ellipse cx='577.9' cy='70.4' rx='7' ry='2.2' fill='#d4dc90' opacity='0.7'/>
<ellipse cx='578.4' cy='78.9' rx='8' ry='4.6' fill='#dcb294' opacity='0.92'/>
<ellipse cx='579.4' cy='82.4' rx='7' ry='2.2' fill='#d4dc90' opacity='0.7'/>
<ellipse cx='579.9' cy='90.9' rx='8' ry='4.6' fill='#dcb294' opacity='0.92'/>
<ellipse cx='580.9' cy='94.4' rx='7' ry='2.2' fill='#d4dc90' opacity='0.7'/>
<ellipse cx='598.4' cy='40.4' rx='8' ry='4.6' fill='#dcb294' opacity='0.92'/>
<ellipse cx='599.4' cy='43.9' rx='7' ry='2.2' fill='#d4dc90' opacity='0.7'/>
<ellipse cx='599.9' cy='52.4' rx='8' ry='4.6' fill='#dcb294' opacity='0.92'/>
<ellipse cx='600.9' cy='55.9' rx='7' ry='2.2' fill='#d4dc90' opacity='0.7'/>
<ellipse cx='601.4' cy='64.4' rx='8' ry='4.6' fill='#dcb294' opacity='0.92'/>
<ellipse cx='602.4' cy='67.9' rx='7' ry='2.2' fill='#d4dc90' opacity='0.7'/>
<ellipse cx='602.9' cy='76.4' rx='8' ry='4.6' fill='#dcb294' opacity='0.92'/>
<ellipse cx='603.9' cy='79.9' rx='7' ry='2.2' fill='#d4dc90' opacity='0.7'/>
<ellipse cx='604.4' cy='88.4' rx='8' ry='4.6' fill='#dcb294' opacity='0.92'/>
<ellipse cx='605.4' cy='91.9' rx='7' ry='2.2' fill='#d4dc90' opacity='0.7'/>
<ellipse cx='622.9' cy='37.9' rx='8' ry='4.6' fill='#dcb294' opacity='0.92'/>
<ellipse cx='623.9' cy='41.4' rx='7' ry='2.2' fill='#d4dc90' opacity='0.7'/>
<ellipse cx='624.4' cy='49.9' rx='8' ry='4.6' fill='#dcb294' opacity='0.92'/>
<ellipse cx='625.4' cy='53.4' rx='7' ry='2.2' fill='#d4dc90' opacity='0.7'/>
<ellipse cx='625.9' cy='61.9' rx='8' ry='4.6' fill='#dcb294' opacity='0.92'/>
<ellipse cx='626.9' cy='65.4' rx='7' ry='2.2' fill='#d4dc90' opacity='0.7'/>
<ellipse cx='627.4' cy='73.9' rx='8' ry='4.6' fill='#dcb294' opacity='0.92'/>
<ellipse cx='628.4' cy='77.4' rx='7' ry='2.2' fill='#d4dc90' opacity='0.7'/>
<ellipse cx='628.9' cy='85.9' rx='8' ry='4.6' fill='#dcb294' opacity='0.92'/>
<ellipse cx='629.9' cy='89.4' rx='7' ry='2.2' fill='#d4dc90' opacity='0.7'/>
<ellipse cx='647.4' cy='35.4' rx='8' ry='4.6' fill='#dcb294' opacity='0.92'/>
<ellipse cx='648.4' cy='38.9' rx='7' ry='2.2' fill='#d4dc90' opacity='0.7'/>
<ellipse cx='648.9' cy='47.4' rx='8' ry='4.6' fill='#dcb294' opacity='0.92'/>
<ellipse cx='649.9' cy='50.9' rx='7' ry='2.2' fill='#d4dc90' opacity='0.7'/>
<ellipse cx='650.4' cy='59.4' rx='8' ry='4.6' fill='#dcb294' opacity='0.92'/>
<ellipse cx='651.4' cy='62.9' rx='7' ry='2.2' fill='#d4dc90' opacity='0.7'/>
<ellipse cx='651.9' cy='71.4' rx='8' ry='4.6' fill='#dcb294' opacity='0.92'/>
<ellipse cx='652.9' cy='74.9' rx='7' ry='2.2' fill='#d4dc90' opacity='0.7'/>
<ellipse cx='653.4' cy='83.4' rx='8' ry='4.6' fill='#dcb294' opacity='0.92'/>
<ellipse cx='654.4' cy='86.9' rx='7' ry='2.2' fill='#d4dc90' opacity='0.7'/>
<ellipse cx='559.6' cy='47.2' rx='4.4' ry='3.4' fill='#1ec444' opacity='0.95'/>
<ellipse cx='565.1' cy='59.2' rx='4.4' ry='3.4' fill='#1ec444' opacity='0.95'/>
<ellipse cx='562.6' cy='71.2' rx='4.4' ry='3.4' fill='#1ec444' opacity='0.95'/>
<ellipse cx='568.1' cy='83.2' rx='4.4' ry='3.4' fill='#1ec444' opacity='0.95'/>
<ellipse cx='565.6' cy='95.2' rx='4.4' ry='3.4' fill='#1ec444' opacity='0.95'/>
<ellipse cx='584.1' cy='44.7' rx='4.4' ry='3.4' fill='#1ec444' opacity='0.95'/>
<ellipse cx='589.6' cy='56.7' rx='4.4' ry='3.4' fill='#1ec444' opacity='0.95'/>
<ellipse cx='587.1' cy='68.7' rx='4.4' ry='3.4' fill='#1ec444' opacity='0.95'/>
<ellipse cx='592.6' cy='80.7' rx='4.4' ry='3.4' fill='#1ec444' opacity='0.95'/>
<ellipse cx='590.1' cy='92.7' rx='4.4' ry='3.4' fill='#1ec444' opacity='0.95'/>
<ellipse cx='608.6' cy='42.2' rx='4.4' ry='3.4' fill='#1ec444' opacity='0.95'/>
<ellipse cx='614.1' cy='54.2' rx='4.4' ry='3.4' fill='#1ec444' opacity='0.95'/>
<ellipse cx='611.6' cy='66.2' rx='4.4' ry='3.4' fill='#1ec444' opacity='0.95'/>
<ellipse cx='617.1' cy='78.2' rx='4.4' ry='3.4' fill='#1ec444' opacity='0.95'/>
<ellipse cx='614.6' cy='90.2' rx='4.4' ry='3.4' fill='#1ec444' opacity='0.95'/>
<ellipse cx='633.1' cy='39.7' rx='4.4' ry='3.4' fill='#1ec444' opacity='0.95'/>
<ellipse cx='638.6' cy='51.7' rx='4.4' ry='3.4' fill='#1ec444' opacity='0.95'/>
<ellipse cx='636.1' cy='63.7' rx='4.4' ry='3.4' fill='#1ec444' opacity='0.95'/>
<ellipse cx='641.6' cy='75.7' rx='4.4' ry='3.4' fill='#1ec444' opacity='0.95'/>
<ellipse cx='639.1' cy='87.7' rx='4.4' ry='3.4' fill='#1ec444' opacity='0.95'/>
<ellipse cx='657.6' cy='37.2' rx='4.4' ry='3.4' fill='#1ec444' opacity='0.95'/>
<ellipse cx='663.1' cy='49.2' rx='4.4' ry='3.4' fill='#1ec444' opacity='0.95'/>
<ellipse cx='660.6' cy='61.2' rx='4.4' ry='3.4' fill='#1ec444' opacity='0.95'/>
<ellipse cx='666.1' cy='73.2' rx='4.4' ry='3.4' fill='#1ec444' opacity='0.95'/>
<ellipse cx='663.6' cy='85.2' rx='4.4' ry='3.4' fill='#1ec444' opacity='0.95'/>
<polygon points='568,57 600,51 612,49 604,56 586,61 570,66' fill='#2ed0c0' opacity='0.95'/>
<path d='M662,44 Q675,36 688,37 Q692,52 686,68 Q674,72 667,64 Q660,54 662,44 Z' fill='#34c4d8' opacity='0.95'/>
<ellipse cx='679' cy='56' rx='4' ry='8' fill='#4a7ed8' opacity='0.95'/>
<polygon points='668,66 690,62 696,72 676,76' fill='#a8e4dc' opacity='0.85'/>
<path d='M688,37 Q695,29 702,35 Q710,50 711,62 Q704,72 693,67 Q687,52 688,37 Z' fill='#e6aaa0' opacity='0.95'/>
<ellipse cx='697' cy='48' rx='4' ry='6' fill='#eab2a8' opacity='0.9'/>
<ellipse cx='693' cy='70' rx='5' ry='3' fill='#cfe6a0' opacity='0.8'/>
</g>
<path d='M570.7,93.8 C572.9,93.4 580.0,92.5 583.7,91.5 C587.5,90.5 589.2,88.9 593.2,87.9 C597.2,86.9 603.5,85.7 607.5,85.5 C611.5,85.3 613.0,86.9 617.0,86.7 C621.0,86.5 626.5,85.5 631.2,84.3 C636.0,83.1 640.8,81.0 645.5,79.6 C650.2,78.2 655.4,76.0 659.7,76.0 C664.1,76.0 667.7,78.8 671.6,79.6 C675.5,80.4 679.8,81.0 683.4,80.8 C687.0,80.6 689.8,79.8 693.0,78.4 C696.2,77.0 699.2,74.9 702.4,72.5 C705.6,70.1 710.4,65.6 712.0,64.2' stroke='#e09060' stroke-width='0.6' fill='none' opacity='0.7'/>
<path d='M576.4,80 L581.5,102' stroke='#30d040' stroke-width='0.9'/>
<path d='M701.4,57.5 L701.4,79.5' stroke='#ff8a20' stroke-width='0.9'/>
<circle cx='576.4' cy='80' r='1.9' fill='#22e030'/>
<circle cx='701.4' cy='57.3' r='1.9' fill='#ff7a10'/>
<circle cx='702.2' cy='26.2' r='1.7' fill='#ffffff'/>
<text x='704.9' y='22.2' font-size='9.2' fill='#dadada' stroke='#dadada' stroke-width='0.25' textLength='25.5' lengthAdjust='spacingAndGlyphs'>493.41</text>
<text x='722.6' y='29.3' font-size='8.4' fill='#dadada' stroke='#dadada' stroke-width='0.25' textLength='10.8' lengthAdjust='spacingAndGlyphs'>µm</text>
<text x='708.5' y='43.5' font-size='8.6' fill='#dadada' stroke='#dadada' stroke-width='0.25' textLength='16.2' lengthAdjust='spacingAndGlyphs'>0.00</text>
<text x='534.3' y='83.0' font-size='9.3' fill='#dadada' stroke='#dadada' stroke-width='0.25' textLength='31.8' lengthAdjust='spacingAndGlyphs'>2000.00</text>
<text x='532.6' y='113.0' font-size='9.5' fill='#dadada' stroke='#dadada' stroke-width='0.25' textLength='33.5' lengthAdjust='spacingAndGlyphs'>1000.00</text>
<text x='527.6' y='150.6' font-size='11.2' fill='#dadada' stroke='#dadada' stroke-width='0.25' textLength='36.8' lengthAdjust='spacingAndGlyphs'>0.00µm</text>
<text x='554.6' y='168.0' font-size='11.2' fill='#dadada' stroke='#dadada' stroke-width='0.25' textLength='38.3' lengthAdjust='spacingAndGlyphs'>0.00µm</text>
<text x='607.6' y='157.0' font-size='11.2' fill='#dadada' stroke='#dadada' stroke-width='0.25' textLength='39.4' lengthAdjust='spacingAndGlyphs'>1000.00</text>
<text x='659.6' y='146.6' font-size='11.2' fill='#dadada' stroke='#dadada' stroke-width='0.25' textLength='39.3' lengthAdjust='spacingAndGlyphs'>2000.00</text>
<text x='712.2' y='136.5' font-size='11.3' fill='#dadada' stroke='#dadada' stroke-width='0.25' textLength='38.2' lengthAdjust='spacingAndGlyphs'>3000.00</text>
<g fill='none' stroke-width='1'>
<path d='M57.3,184.8 H480.4 V318.0' stroke='#6e6e6e'/>
<path d='M57.3,184.8 V319.0' stroke='#6e6e6e'/>
<path d='M57.3,311.6 H480.4' stroke='#9a9a9a' stroke-width='1.6'/>
<path d='M57.3,318.0 H480.4' stroke='#5a5a5a'/>
<path d='M54.8,311.6 H57.3M54.8,301.5 H57.3M54.8,291.5 H57.3M54.8,281.4 H57.3M54.8,271.3 H57.3M54.8,261.2 H57.3M54.8,251.2 H57.3M54.8,241.1 H57.3M54.8,231.0 H57.3M54.8,220.9 H57.3M54.8,210.9 H57.3M54.8,200.8 H57.3M54.8,190.7 H57.3' stroke='#6e6e6e'/>
<path d='M57.3,318.0 V320.5M84.3,318.0 V320.5M111.4,318.0 V320.5M138.4,318.0 V320.5M165.5,318.0 V320.5M192.5,318.0 V320.5M219.5,318.0 V320.5M246.6,318.0 V320.5M273.6,318.0 V320.5M300.7,318.0 V320.5M327.7,318.0 V320.5M354.7,318.0 V320.5M381.8,318.0 V320.5M408.8,318.0 V320.5M435.9,318.0 V320.5M462.9,318.0 V320.5' stroke='#6e6e6e'/>
</g>
<text x='54.2' y='191.6' font-size='11' fill='#d2d2d2' stroke='#d2d2d2' stroke-width='0.25' text-anchor='end' >628.78</text>
<text x='54.2' y='213.0' font-size='11' fill='#d2d2d2' stroke='#d2d2d2' stroke-width='0.25' text-anchor='end' >500.00</text>
<text x='54.2' y='233.3' font-size='11' fill='#d2d2d2' stroke='#d2d2d2' stroke-width='0.25' text-anchor='end' >400.00</text>
<text x='54.2' y='254.0' font-size='11' fill='#d2d2d2' stroke='#d2d2d2' stroke-width='0.25' text-anchor='end' >300.00</text>
<text x='54.2' y='274.8' font-size='11' fill='#d2d2d2' stroke='#d2d2d2' stroke-width='0.25' text-anchor='end' >200.00</text>
<text x='54.2' y='295.8' font-size='11' fill='#d2d2d2' stroke='#d2d2d2' stroke-width='0.25' text-anchor='end' >100.00</text>
<text x='54.2' y='316.6' font-size='11' fill='#d2d2d2' stroke='#d2d2d2' stroke-width='0.25' text-anchor='end' >0.00</text>
<text x='40.6' y='327.6' font-size='9.4' fill='#cfcfcf' stroke='#cfcfcf' stroke-width='0.25' text-anchor='start' >0.00</text>
<text x='83.2' y='327.6' font-size='9.4' fill='#cfcfcf' stroke='#cfcfcf' stroke-width='0.25' text-anchor='start' >400.00</text>
<text x='136.4' y='327.6' font-size='9.4' fill='#cfcfcf' stroke='#cfcfcf' stroke-width='0.25' text-anchor='start' >800.00</text>
<text x='187.3' y='327.6' font-size='9.4' fill='#cfcfcf' stroke='#cfcfcf' stroke-width='0.25' text-anchor='start' >1200.00</text>
<text x='242.6' y='327.6' font-size='9.4' fill='#cfcfcf' stroke='#cfcfcf' stroke-width='0.25' text-anchor='start' >1600.00</text>
<text x='298.6' y='327.6' font-size='9.4' fill='#cfcfcf' stroke='#cfcfcf' stroke-width='0.25' text-anchor='start' >2000.00</text>
<text x='354.9' y='327.6' font-size='9.4' fill='#cfcfcf' stroke='#cfcfcf' stroke-width='0.25' text-anchor='start' >2400.00</text>
<text x='410.9' y='327.6' font-size='9.4' fill='#cfcfcf' stroke='#cfcfcf' stroke-width='0.25' text-anchor='start' >2800.00</text>
<text x='465.3' y='327.6' font-size='9.4' fill='#cfcfcf' stroke='#cfcfcf' stroke-width='0.25' text-anchor='start' >3125.20</text>
<text x='58.5' y='184.5' font-size='4.6' fill='#c0c0c0' text-anchor='start' >µm</text>
<path d='M57.0,280.1 C58.7,279.6 64.1,277.4 67.1,277.1 C70.1,276.8 71.8,276.6 75.1,278.1 C78.4,279.6 84.5,284.4 87.2,286.2 C89.9,288.0 88.5,286.2 91.2,289.2 C93.9,292.2 99.5,301.1 103.2,304.2 C106.9,307.3 110.0,307.9 113.3,307.9 C116.6,307.9 119.9,306.3 123.3,304.2 C126.7,302.1 130.4,298.1 133.4,295.2 C136.4,292.3 138.7,288.6 141.4,286.8 C144.1,285.1 146.5,284.7 149.5,284.7 C152.5,284.7 155.2,285.4 159.5,286.8 C163.8,288.2 170.6,291.5 175.6,293.2 C180.6,294.9 185.7,297.0 189.7,297.2 C193.7,297.4 195.7,296.5 199.7,294.2 C203.7,291.9 210.0,285.4 213.8,283.1 C217.7,280.9 219.8,280.7 222.8,280.7 C225.8,280.7 228.4,280.7 231.9,283.1 C235.4,285.5 240.1,291.9 243.9,295.2 C247.8,298.5 251.5,301.1 255.0,302.8 C258.5,304.5 261.2,305.9 265.1,305.3 C269.0,304.7 273.9,302.6 278.1,299.2 C282.3,295.8 286.3,288.3 290.2,285.2 C294.1,282.1 297.6,280.9 301.3,280.5 C305.0,280.1 308.1,281.2 312.3,283.1 C316.5,285.1 321.7,289.8 326.4,292.2 C331.1,294.6 336.1,297.5 340.5,297.8 C344.9,298.1 348.5,297.0 352.5,294.2 C356.5,291.4 360.8,284.0 364.6,281.1 C368.5,278.2 371.9,276.9 375.6,276.7 C379.3,276.5 382.2,277.5 386.7,280.1 C391.2,282.7 397.8,289.4 402.8,292.2 C407.8,295.0 412.8,296.5 416.8,296.8 C420.8,297.1 422.7,296.8 426.9,294.2 C431.1,291.6 439.5,283.6 442.0,281.5' fill='none' stroke='#13747a' stroke-width='1.4' stroke-linejoin='round'/>
<g fill='none' stroke-width='1'>
<path d='M544.0,184.7 H967.2 V318.0' stroke='#6e6e6e'/>
<path d='M544.0,184.7 V319.0' stroke='#6e6e6e'/>
<path d='M544.0,311.8 H967.2' stroke='#9a9a9a' stroke-width='1.6'/>
<path d='M544.0,318.0 H967.2' stroke='#5a5a5a'/>
<path d='M541.5,201.8 H544.0M541.5,213.2 H544.0M541.5,225.5 H544.0M541.5,238.7 H544.0M541.5,251.5 H544.0M541.5,265.0 H544.0M541.5,278.5 H544.0M541.5,292.0 H544.0M541.5,305.3 H544.0' stroke='#6e6e6e'/>
<path d='M544.0,318.0 V320.5M571.1,318.0 V320.5M598.2,318.0 V320.5M625.3,318.0 V320.5M652.4,318.0 V320.5M679.5,318.0 V320.5M706.7,318.0 V320.5M733.8,318.0 V320.5M760.9,318.0 V320.5M788.0,318.0 V320.5M815.1,318.0 V320.5M842.2,318.0 V320.5M869.3,318.0 V320.5M896.4,318.0 V320.5M923.5,318.0 V320.5M950.6,318.0 V320.5' stroke='#6e6e6e'/>
</g>
<text x='539.6' y='190.4' font-size='9.6' fill='#d2d2d2' stroke='#d2d2d2' stroke-width='0.25' text-anchor='end' >518.09</text>
<text x='539.6' y='204.5' font-size='9.6' fill='#d2d2d2' stroke='#d2d2d2' stroke-width='0.25' text-anchor='end' >450.00</text>
<text x='539.6' y='217.4' font-size='9.6' fill='#d2d2d2' stroke='#d2d2d2' stroke-width='0.25' text-anchor='end' >400.00</text>
<text x='539.6' y='231.9' font-size='9.6' fill='#d2d2d2' stroke='#d2d2d2' stroke-width='0.25' text-anchor='end' >350.00</text>
<text x='539.6' y='245.0' font-size='9.6' fill='#d2d2d2' stroke='#d2d2d2' stroke-width='0.25' text-anchor='end' >300.00</text>
<text x='539.6' y='260.2' font-size='9.6' fill='#d2d2d2' stroke='#d2d2d2' stroke-width='0.25' text-anchor='end' >250.00</text>
<text x='539.6' y='273.7' font-size='9.6' fill='#d2d2d2' stroke='#d2d2d2' stroke-width='0.25' text-anchor='end' >200.00</text>
<text x='539.6' y='287.4' font-size='9.6' fill='#d2d2d2' stroke='#d2d2d2' stroke-width='0.25' text-anchor='end' >150.00</text>
<text x='539.6' y='301.2' font-size='9.6' fill='#d2d2d2' stroke='#d2d2d2' stroke-width='0.25' text-anchor='end' >100.00</text>
<text x='539.6' y='315.4' font-size='9.6' fill='#d2d2d2' stroke='#d2d2d2' stroke-width='0.25' text-anchor='end' >0.00</text>
<text x='533.8' y='329.6' font-size='9.4' fill='#cfcfcf' stroke='#cfcfcf' stroke-width='0.25' text-anchor='start' >0.00</text>
<text x='576.5' y='329.6' font-size='9.4' fill='#cfcfcf' stroke='#cfcfcf' stroke-width='0.25' text-anchor='start' >400.00</text>
<text x='630.0' y='329.6' font-size='9.4' fill='#cfcfcf' stroke='#cfcfcf' stroke-width='0.25' text-anchor='start' >800.00</text>
<text x='680.8' y='329.6' font-size='9.4' fill='#cfcfcf' stroke='#cfcfcf' stroke-width='0.25' text-anchor='start' >1200.00</text>
<text x='738.0' y='329.6' font-size='9.4' fill='#cfcfcf' stroke='#cfcfcf' stroke-width='0.25' text-anchor='start' >1600.00</text>
<text x='793.0' y='329.6' font-size='9.4' fill='#cfcfcf' stroke='#cfcfcf' stroke-width='0.25' text-anchor='start' >2000.00</text>
<text x='849.3' y='329.6' font-size='9.4' fill='#cfcfcf' stroke='#cfcfcf' stroke-width='0.25' text-anchor='start' >2400.00</text>
<text x='904.5' y='329.6' font-size='9.4' fill='#cfcfcf' stroke='#cfcfcf' stroke-width='0.25' text-anchor='start' >2800.00</text>
<text x='958.9' y='329.6' font-size='9.4' fill='#cfcfcf' stroke='#cfcfcf' stroke-width='0.25' text-anchor='start' >3125.20</text>
<text x='545.2' y='184.4' font-size='4.6' fill='#c0c0c0' text-anchor='start' >µm</text>
<text x='968.5' y='316.5' font-size='4.6' fill='#c0c0c0' text-anchor='start' >µm</text>
<path d='M544.3,234.4 C545.6,235.4 549.0,237.7 551.9,240.3 C554.8,242.9 558.2,247.4 561.4,249.8 C564.5,252.2 567.8,254.4 570.8,254.6 C573.8,254.8 577.1,253.0 579.1,251.0 C581.1,249.0 580.5,245.9 582.7,242.7 C584.9,239.5 588.7,235.0 592.2,232.0 C595.8,229.0 600.6,226.4 604.0,224.9 C607.4,223.4 609.6,222.6 612.4,222.8 C615.2,223.0 618.1,224.0 620.7,226.1 C623.3,228.2 625.0,232.6 627.8,235.6 C630.6,238.6 633.3,241.8 637.3,243.9 C641.2,246.0 647.1,247.8 651.5,248.2 C655.9,248.6 659.4,248.0 663.4,246.3 C667.4,244.6 672.1,241.0 675.2,238.0 C678.4,235.0 679.7,230.6 682.3,228.5 C684.9,226.4 687.5,225.2 690.7,225.4 C693.9,225.6 697.1,227.4 701.3,229.7 C705.4,232.0 711.2,236.5 715.6,239.1 C720.0,241.7 723.4,244.9 727.4,245.1 C731.4,245.3 735.9,242.9 739.5,240.3 C743.1,237.7 745.8,233.0 749.0,229.7 C752.2,226.3 755.1,222.7 758.5,220.2 C761.9,217.7 765.6,215.1 769.1,214.7 C772.6,214.3 776.6,216.1 779.8,217.8 C783.0,219.5 785.3,221.7 788.1,224.9 C790.9,228.1 793.4,233.4 796.4,236.8 C799.4,240.2 803.1,242.9 805.9,245.1 C808.7,247.3 811.0,248.5 813.0,249.8 C815.0,251.1 816.4,251.1 817.8,252.7 C819.2,254.3 819.7,257.7 821.3,259.3 C822.9,260.9 825.1,261.7 827.3,262.2 C829.5,262.7 831.6,262.0 834.4,262.2 C837.2,262.4 840.9,262.9 843.9,263.3 C846.9,263.7 849.4,263.7 852.2,264.5 C855.0,265.3 858.1,267.3 860.5,268.3 C862.9,269.3 864.0,270.8 866.4,270.7 C868.8,270.6 872.7,269.9 874.7,267.6 C876.7,265.3 876.9,260.4 878.3,256.9 C879.7,253.3 880.8,249.7 883.0,246.3 C885.2,243.0 889.1,239.8 891.3,236.8 C893.5,233.8 894.4,231.6 896.1,228.5 C897.8,225.4 900.4,220.2 901.3,218.5' fill='none' stroke='#13747a' stroke-width='1.4' stroke-linejoin='round'/>
</svg>
</body></html>
